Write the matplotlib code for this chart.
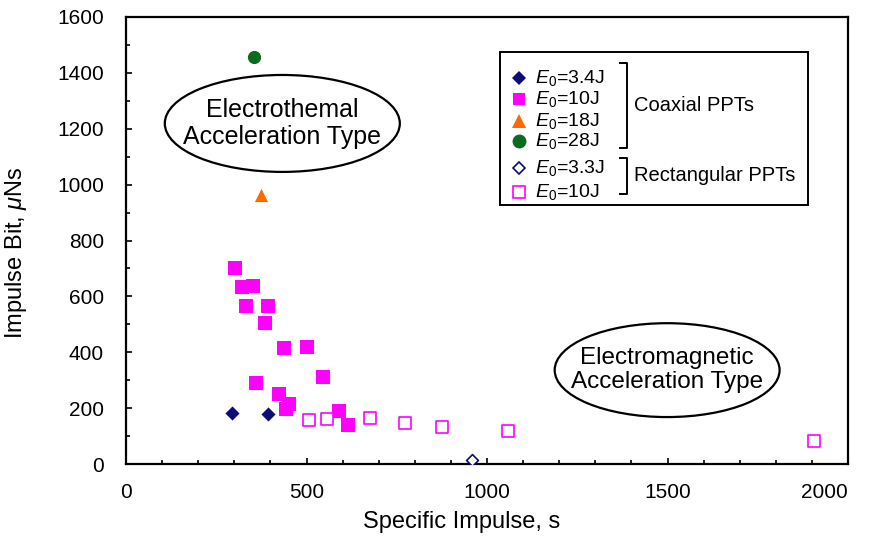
import matplotlib
matplotlib.use("Agg")
from matplotlib import pyplot as plt
from matplotlib.patches import Ellipse, Rectangle
from matplotlib.lines import Line2D
from matplotlib.ticker import MultipleLocator

plt.rcParams['font.family'] = ['Liberation Sans', 'DejaVu Sans']
plt.rcParams['mathtext.fontset'] = 'custom'
plt.rcParams['mathtext.rm'] = 'Liberation Sans'
plt.rcParams['mathtext.it'] = 'Liberation Sans:italic'

# coaxial PPTs: specific impulse [s], impulse bit [uNs]
coax_34_isp = [294, 393]
coax_34_ibit = [183, 179]
coax_10_isp = [303, 322, 353, 333, 394, 386, 437, 502, 360, 425, 452, 444, 545, 591, 616]
coax_10_ibit = [700, 632, 637, 565, 564, 505, 415, 420, 289, 249, 215, 196, 311, 191, 141]
coax_18_isp = [374]
coax_18_ibit = [963]
coax_28_isp = [355]
coax_28_ibit = [1456]

# rectangular PPTs
rect_33_isp = [958]
rect_33_ibit = [14]
rect_10_isp = [508, 558, 677, 774, 876, 1059, 1906]
rect_10_ibit = [157, 162, 166, 146, 134, 117, 82]

x_ticks = [0, 500, 1000, 1500, 2000]

navy = '#0b0b7a'
pink = '#ff00ff'
orange = '#ff6a00'
green = '#0b6b1f'

fig = plt.figure(figsize=(8.75, 5.44), dpi=100)
ax = fig.add_axes([126 / 875, 80 / 544, 722 / 875, 447 / 544])

ax.scatter(coax_10_isp, coax_10_ibit, s=9.5 ** 2, marker='s', color=pink, linewidths=0, zorder=3)
ax.scatter(coax_34_isp, coax_34_ibit, s=7.2 ** 2, marker='D', color=navy, linewidths=0, zorder=3)
ax.scatter(coax_18_isp, coax_18_ibit, s=9.5 ** 2, marker='^', color=orange, linewidths=0, zorder=3)
ax.scatter(coax_28_isp, coax_28_ibit, s=9.5 ** 2, marker='o', color=green, linewidths=0, zorder=3)
ax.scatter(rect_33_isp, rect_33_ibit, s=6 ** 2, marker='D', facecolors='white', edgecolors=navy,
           linewidths=1.2, zorder=3)
ax.scatter(rect_10_isp, rect_10_ibit, s=8.5 ** 2, marker='s', facecolors='white', edgecolors=pink,
           linewidths=1.2, zorder=3)

ax.set_xlim(0, 2000)
ax.set_ylim(0, 1600)
ax.set_xticks(x_ticks)
ax.xaxis.set_minor_locator(MultipleLocator(100))
ax.yaxis.set_major_locator(MultipleLocator(200))
ax.yaxis.set_minor_locator(MultipleLocator(100))
ax.tick_params(which='both', direction='in', top=False, right=False, width=1.2, labelsize=15)
ax.tick_params(which='major', length=4)
ax.tick_params(which='minor', length=3)
ax.tick_params(axis='y', which='major', pad=16)
ax.tick_params(axis='x', which='major', pad=14)
for sp in ax.spines.values():
    sp.set_linewidth(1.6)

# keep the last x tick label inside the figure
ax.xaxis.get_major_ticks()[-1].label1.set_horizontalalignment('right')

ax.set_xlabel('Specific Impulse, s', fontsize=17)
ax.set_ylabel(r'Impulse Bit, $\mu$Ns', fontsize=17)
ax.xaxis.set_label_coords(0.465, -0.105)
ax.yaxis.set_label_coords(-0.134, 0.474)

# acceleration type regions
ax.add_patch(Ellipse((433, 1219), 651, 347, fill=False, lw=1.6, ec='black', zorder=2))
ax.text(433, 1219, 'Electrothemal\nAcceleration Type', ha='center', va='center',
        fontsize=18, linespacing=1.12)
ax.add_patch(Ellipse((1499, 336), 623, 336, fill=False, lw=1.6, ec='black', zorder=2))
ax.text(1499, 336, 'Electromagnetic\nAcceleration Type', ha='center', va='center',
        fontsize=17.5, linespacing=1.12)

# legend with grouping brackets
tr = ax.transAxes
ax.add_patch(Rectangle((0.518, 0.579), 0.427, 0.343, transform=tr, fill=False, lw=1.4,
                       ec='black', zorder=4))
entries = [
    ('D', navy, True, r'$E_{\mathit{0}}$=3.4J', 0.8635, 7.2),
    ('s', pink, True, r'$E_{\mathit{0}}$=10J', 0.8166, 9.0),
    ('^', orange, True, r'$E_{\mathit{0}}$=18J', 0.7673, 9.5),
    ('o', green, True, r'$E_{\mathit{0}}$=28J', 0.7226, 10),
    ('D', navy, False, r'$E_{\mathit{0}}$=3.3J', 0.6622, 6),
    ('s', pink, False, r'$E_{\mathit{0}}$=10J', 0.6085, 8.5),
]
for mk, col, filled, lab, yy, ms in entries:
    ax.add_line(Line2D([0.544], [yy], transform=tr, marker=mk, ms=ms, ls='none',
                       mfc=col if filled else 'white', mec=col, mew=0 if filled else 1.2,
                       zorder=5, clip_on=False))
    ax.text(0.566, yy, lab, transform=tr, fontsize=14, va='center', ha='left')

for top, bot, label in [(0.8977, 0.707, 'Coaxial PPTs'), (0.6846, 0.604, 'Rectangular PPTs')]:
    ax.add_line(Line2D([0.6842, 0.694, 0.694, 0.6842], [top, top, bot, bot], transform=tr,
                       color='black', lw=1.4, clip_on=False))
    ax.text(0.7036, (top + bot) / 2, label, transform=tr, fontsize=14.5, va='center', ha='left')

fig.savefig('out.png', dpi=100)
